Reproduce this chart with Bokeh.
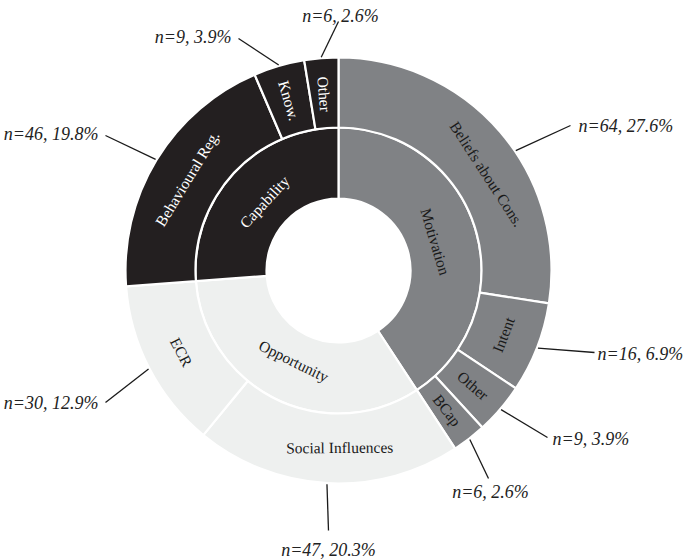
import math
from bokeh.plotting import figure
from bokeh.models import Range1d, ColumnDataSource
from bokeh.core.properties import value
from bokeh.embed import file_html
from bokeh.resources import INLINE

# ---------------- data ----------------
inner_labels = ["Motivation", "Opportunity", "Capability"]
inner_counts = [95, 77, 61]
inner_colors = ["#808285", "#eef0ef", "#231f20"]
inner_text_colors = ["#1a1a1a", "#1a1a1a", "#ffffff"]

outer_labels = ["Beliefs about Cons.", "Intent", "Other", "BCap",
                "Social Influences", "ECR",
                "Behavioural Reg.", "Know.", "Other"]
outer_parent = [0, 0, 0, 0, 1, 1, 2, 2, 2]
outer_counts = [64, 16, 9, 6, 47, 30, 46, 9, 6]
outer_pct = [27.6, 6.9, 3.9, 2.6, 20.3, 12.9, 19.8, 3.9, 2.6]

# ---------------- layout ----------------
W, H = 685, 560
CX, CY = 338, 270            # centre in picture pixels
R0, R1, R2 = 72, 143, 213    # ring radii (px)
R_IN_LABEL, R_OUT_LABEL = 101, 177

def dx(px):
    return px - CX

def dy(py):
    return CY - py

# angular nudges (deg) from segment middle: in-segment label, leader start
out_label_shift = [-7.5, 0, 0, 0, 3.5, 0, 0, 0, 0]
leader_shift = [-6.5, 0, 0, 0, 0, 0, 0, 0, 0]

# outer label layout: leader end (px), text anchor (px), alignment, baseline
lab_layout = [
    ((570, 125), (578, 125), "left", "middle"),
    ((594, 352), (597, 353), "left", "middle"),
    ((547, 437), (552, 438), "left", "middle"),
    ((488, 478), (490, 481), "center", "top"),
    ((328, 530), (328, 549), "center", "middle"),
    ((105, 402), (98, 402), "right", "middle"),
    ((105, 135), (98, 133), "right", "middle"),
    ((238, 38), (231, 36), "right", "middle"),
    ((338, 21), (340, 15), "center", "alphabetic"),
]

total = sum(outer_counts)

p = figure(width=W, height=H, output_backend="svg", toolbar_location=None,
           x_range=Range1d(-CX, W - CX), y_range=Range1d(CY - H, CY),
           x_axis_location=None, y_axis_location=None, min_border=0,
           outline_line_color=None)
p.grid.visible = False
p.background_fill_color = "white"
p.border_fill_color = "white"


def ring(counts, colors, r_in, r_out):
    starts, ends, mids, sweeps = [], [], [], []
    c = 0.0
    for n in counts:
        c0 = c
        c1 = c + n / total * 360.0
        starts.append(math.radians(90 - c1))
        ends.append(math.radians(90 - c0))
        mids.append(90 - (c0 + c1) / 2)
        sweeps.append(c1 - c0)
        c = c1
    src = ColumnDataSource(dict(x=[0] * len(counts), y=[0] * len(counts),
                                s=starts, e=ends, color=colors))
    p.annular_wedge(x="x", y="y", inner_radius=r_in, outer_radius=r_out,
                    start_angle="s", end_angle="e", fill_color="color",
                    line_color="white", line_width=2.2, source=src)
    return mids, sweeps


def rot(mid, sweep):
    r = mid if sweep < 20 else mid - 90
    while r > 90:
        r -= 180
    while r <= -90:
        r += 180
    return math.radians(r)


in_mids, in_sweeps = ring(inner_counts, inner_colors, R0, R1)
out_colors = [inner_colors[i] for i in outer_parent]
out_tcolors = [inner_text_colors[i] for i in outer_parent]
out_mids, out_sweeps = ring(outer_counts, out_colors, R1, R2)
out_lab_angles = [m + s for m, s in zip(out_mids, out_label_shift)]
leader_angles = [m + s for m, s in zip(out_mids, leader_shift)]


def seg_labels(labels, mids, sweeps, tcolors, rmid):
    xs = [rmid * math.cos(math.radians(m)) for m in mids]
    ys = [rmid * math.sin(math.radians(m)) for m in mids]
    angs = [rot(m, s) for m, s in zip(mids, sweeps)]
    src = ColumnDataSource(dict(x=xs, y=ys, t=labels, a=angs, c=tcolors))
    p.text(x="x", y="y", text="t", angle="a", text_color="c", source=src,
           text_font=value("Liberation Serif"), text_font_size="15.5px",
           text_align="center", text_baseline="middle")

seg_labels(inner_labels, in_mids, in_sweeps, inner_text_colors, R_IN_LABEL)
seg_labels(outer_labels, out_lab_angles, out_sweeps, out_tcolors, R_OUT_LABEL)

# leader lines and count labels
x0s, y0s, x1s, y1s = [], [], [], []
for m, lay in zip(leader_angles, lab_layout):
    x0s.append((R2 + 1) * math.cos(math.radians(m)))
    y0s.append((R2 + 1) * math.sin(math.radians(m)))
    x1s.append(dx(lay[0][0]))
    y1s.append(dy(lay[0][1]))
p.segment(x0=x0s, y0=y0s, x1=x1s, y1=y1s, line_color="#1a1a1a", line_width=1.3)

for n, pc, lay in zip(outer_counts, outer_pct, lab_layout):
    p.text(x=[dx(lay[1][0])], y=[dy(lay[1][1])], text=[f"n={n}, {pc}%"],
           text_font=value("Liberation Serif"), text_font_style="italic",
           text_font_size="18px", text_color="#222222",
           text_align=lay[2], text_baseline=lay[3])

open("out.html", "w").write(file_html(p, INLINE))
